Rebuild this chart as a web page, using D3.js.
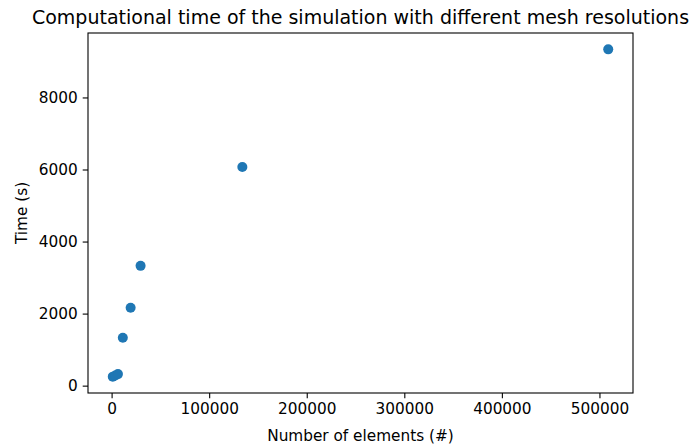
<!DOCTYPE html>
<html>
<head>
<meta charset="utf-8">
<script src="https://cdn.jsdelivr.net/npm/d3@7"></script>
<style>
  html, body { margin: 0; padding: 0; background: #fff; }
  svg { display: block; font-family: "DejaVu Sans", sans-serif; }
</style>
</head>
<body>
<svg id="chart" width="697" height="446"></svg>
<script>
const elements = [1200, 3800, 6500, 11500, 19500, 29700, 134000, 509000];
const times = [250, 280, 320, 1330, 2160, 3325, 6070, 9335];
const xTicks = [0, 100000, 200000, 300000, 400000, 500000];
const yTicks = [0, 2000, 4000, 6000, 8000];
const title = "Computational time of the simulation with different mesh resolutions";
const xLabel = "Number of elements (#)";
const yLabel = "Time (s)";

const svg = d3.select("#chart");
const m = { left: 88, right: 633, top: 33, bottom: 393 };

const xMin = d3.min(elements), xMax = d3.max(elements);
const yMin = d3.min(times), yMax = d3.max(times);
const xPad = (xMax - xMin) * 0.05, yPad = (yMax - yMin) * 0.05;

const x = d3.scaleLinear().domain([xMin - xPad, xMax + xPad]).range([m.left, m.right]);
const y = d3.scaleLinear().domain([yMin - yPad, yMax + yPad]).range([m.bottom, m.top]);

const fs = 15.3;

svg.append("g")
  .selectAll("circle")
  .data(elements.map((e, i) => [e, times[i]]))
  .join("circle")
  .attr("cx", d => x(d[0]))
  .attr("cy", d => y(d[1]))
  .attr("r", 5)
  .attr("fill", "#1f77b4");

const xAxis = svg.append("g")
  .attr("transform", `translate(0,${m.bottom})`)
  .call(d3.axisBottom(x).tickValues(xTicks).tickFormat(d3.format("d")).tickSize(5.3).tickPadding(5));
const yAxis = svg.append("g")
  .attr("transform", `translate(${m.left},0)`)
  .call(d3.axisLeft(y).tickValues(yTicks).tickFormat(d3.format("d")).tickSize(5.3).tickPadding(5));

[xAxis, yAxis].forEach(a => {
  a.select(".domain").remove();
  a.selectAll(".tick line").attr("stroke", "#000").attr("stroke-width", 1.1);
  a.selectAll(".tick text").attr("fill", "#000").style("font-size", fs + "px").style("font-family", "DejaVu Sans");
});

svg.append("rect")
  .attr("x", m.left).attr("y", m.top)
  .attr("width", m.right - m.left).attr("height", m.bottom - m.top)
  .attr("fill", "none").attr("stroke", "#000").attr("stroke-width", 1.1);

svg.append("text")
  .attr("x", (m.left + m.right) / 2).attr("y", 24)
  .attr("text-anchor", "middle")
  .style("font-size", "19px")
  .text(title);

svg.append("text")
  .attr("x", (m.left + m.right) / 2).attr("y", 441)
  .attr("text-anchor", "middle")
  .style("font-size", fs + "px")
  .text(xLabel);

svg.append("text")
  .attr("transform", `translate(27,${(m.top + m.bottom) / 2}) rotate(-90)`)
  .attr("text-anchor", "middle")
  .style("font-size", fs + "px")
  .text(yLabel);
</script>
</body>
</html>
